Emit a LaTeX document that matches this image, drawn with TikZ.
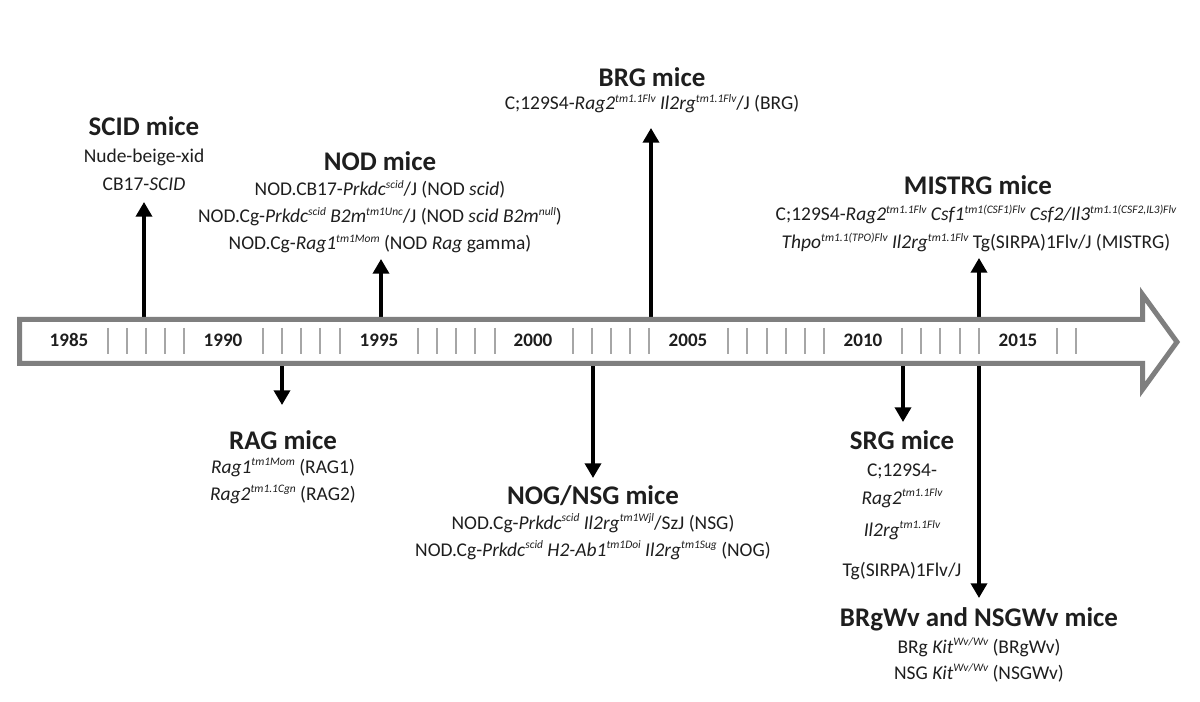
\documentclass[tikz,border=0pt]{standalone}
\usepackage{fontspec}
\setmainfont{Carlito}
\usetikzlibrary{arrows.meta}
\definecolor{bargrey}{HTML}{7F7F7F}
\definecolor{tickgrey}{HTML}{A6A6A6}
\definecolor{ink}{HTML}{1E1E1E}
\newcommand\sps[1]{\raisebox{5.5pt}{\fontsize{8.6}{9}\selectfont\itshape #1}}
\begin{document}
\begin{tikzpicture}[x=0.75pt,y=-0.75pt,
  head/.style={font=\fontsize{20.2}{24}\selectfont\bfseries, text=ink, anchor=base, inner sep=0pt},
  txt/.style={font=\fontsize{14.6}{17}\selectfont, text=ink, anchor=base, inner sep=0pt},
  year/.style={font=\fontsize{14.3}{17}\selectfont\bfseries, text=ink, anchor=base, inner sep=0pt},
  tickmark/.style={draw=tickgrey, line width=1.1pt},
  evarrow/.style={draw=black, line width=2.6pt, -{Triangle[width=12pt,length=11pt]}},
]
\useasboundingbox (0,0) rectangle (1200,702);
\fill[white] (0,0) rectangle (1200,702);

% arrow end points
\coordinate (scidb) at (144,320);  \coordinate (scidt) at (144,202);
\coordinate (nodb)  at (381,320);  \coordinate (nodt)  at (381,259);
\coordinate (brgb)  at (651,320);  \coordinate (brgt)  at (651,128);
\coordinate (misb)  at (979,320);  \coordinate (mist)  at (979,258);
\coordinate (ragb)  at (282,363);  \coordinate (ragt)  at (282,405);
\coordinate (nogb)  at (593,363);  \coordinate (nogt)  at (593,478);
\coordinate (srgb)  at (903,363);  \coordinate (srgt)  at (903,422);
\coordinate (wvb)   at (979,363);  \coordinate (wvt)   at (979,598);

\draw[evarrow] (scidb) -- (scidt);
\draw[evarrow] (nodb) -- (nodt);
\draw[evarrow] (brgb) -- (brgt);
\draw[evarrow] (misb) -- (mist);
\draw[evarrow] (ragb) -- (ragt);
\draw[evarrow] (nogb) -- (nogt);
\draw[evarrow] (srgb) -- (srgt);
\draw[evarrow] (wvb) -- (wvt);

% timeline bar
\draw[draw=bargrey, line width=3.75pt, fill=white, line join=miter]
  (19.5,319.5) -- (1142.5,319.5) -- (1142.5,294.5) -- (1177,342)
  -- (1142.5,389.5) -- (1142.5,363.5) -- (19.5,363.5) -- cycle;

\foreach \t in {108,127,146,165,184,263,282,301,320,340,418,437,456,475,495,
  573,592,611,630,649,728,747,767,786,805,824,902,921,940,960,979,1057,1076}
  \draw[tickmark] (\t,328) -- (\t,354);

\node[year] (y1985) at (69,347) {1985};
\node[year] (y1990) at (223,347) {1990};
\node[year] (y1995) at (379,347) {1995};
\node[year] (y2000) at (533,347) {2000};
\node[year] (y2005) at (688,347) {2005};
\node[year] (y2010) at (863,347) {2010};
\node[year] (y2015) at (1018,347) {2015};

% SCID
\node[head] (scidh) at (144,136) {SCID mice};
\node[txt] (scid1) at (144,163) {Nude-beige-xid};
\node[txt] (scid2) at (144,191) {CB17-\textit{SCID}};

% NOD
\node[head] (nodh) at (380,171) {NOD mice};
\node[txt] (nod1) at (380,196) {NOD.CB17-\textit{Prkdc}\sps{scid}/J (NOD \textit{scid})};
\node[txt] (nod2) at (380,223) {NOD.Cg-\textit{Prkdc}\sps{scid} \textit{B2m}\sps{tm1Unc}/J (NOD \textit{scid B2m}\sps{null})};
\node[txt] (nod3) at (380,250) {NOD.Cg-\textit{Rag1}\sps{tm1Mom} (NOD \textit{Rag} gamma)};

% BRG
\node[head] (brgh) at (652,87) {BRG mice};
\node[txt] (brg1) at (652,110) {C;129S4-\textit{Rag2}\sps{tm1.1Flv} \textit{Il2rg}\sps{tm1.1Flv}/J (BRG)};

% MISTRG
\node[head] (mish) at (978,195) {MISTRG mice};
\node[txt] (mis1) at (976,221) {C;129S4-\textit{Rag2}\sps{tm1.1Flv} \textit{Csf1}\sps{tm1(CSF1)Flv} \textit{Csf2/Il3}\sps{tm1.1(CSF2,IL3)Flv}};
\node[txt] (mis2) at (976,249) {\textit{Thpo}\sps{tm1.1(TPO)Flv} \textit{Il2rg}\sps{tm1.1Flv} Tg(SIRPA)1Flv/J (MISTRG)};

% RAG
\node[head] (ragh) at (283,449) {RAG mice};
\node[txt] (rag1) at (283,473) {\textit{Rag1}\sps{tm1Mom} (RAG1)};
\node[txt] (rag2) at (283,500) {\textit{Rag2}\sps{tm1.1Cgn} (RAG2)};

% NOG/NSG
\node[head] (nogh) at (593,504) {NOG/NSG mice};
\node[txt] (nog1) at (593,529) {NOD.Cg-\textit{Prkdc}\sps{scid} \textit{Il2rg}\sps{tm1Wjl}/SzJ (NSG)};
\node[txt] (nog2) at (593,556) {NOD.Cg-\textit{Prkdc}\sps{scid} \textit{H2-Ab1}\sps{tm1Doi} \textit{Il2rg}\sps{tm1Sug} (NOG)};

% SRG
\node[head] (srgh) at (902,449) {SRG mice};
\node[txt] (srg1) at (902,476) {C;129S4-};
\node[txt] (srg2) at (902,504) {\textit{Rag2}\sps{tm1.1Flv}};
\node[txt] (srg3) at (902,536) {\textit{Il2rg}\sps{tm1.1Flv}};
\node[txt] (srg4) at (902,576) {Tg(SIRPA)1Flv/J};

% BRgWv / NSGWv
\node[head] (wvh) at (979,626) {BRgWv and NSGWv mice};
\node[txt] (wv1) at (979,653) {BRg \textit{Kit}\sps{Wv/Wv} (BRgWv)};
\node[txt] (wv2) at (979,679) {NSG \textit{Kit}\sps{Wv/Wv} (NSGWv)};
\end{tikzpicture}
\end{document}
